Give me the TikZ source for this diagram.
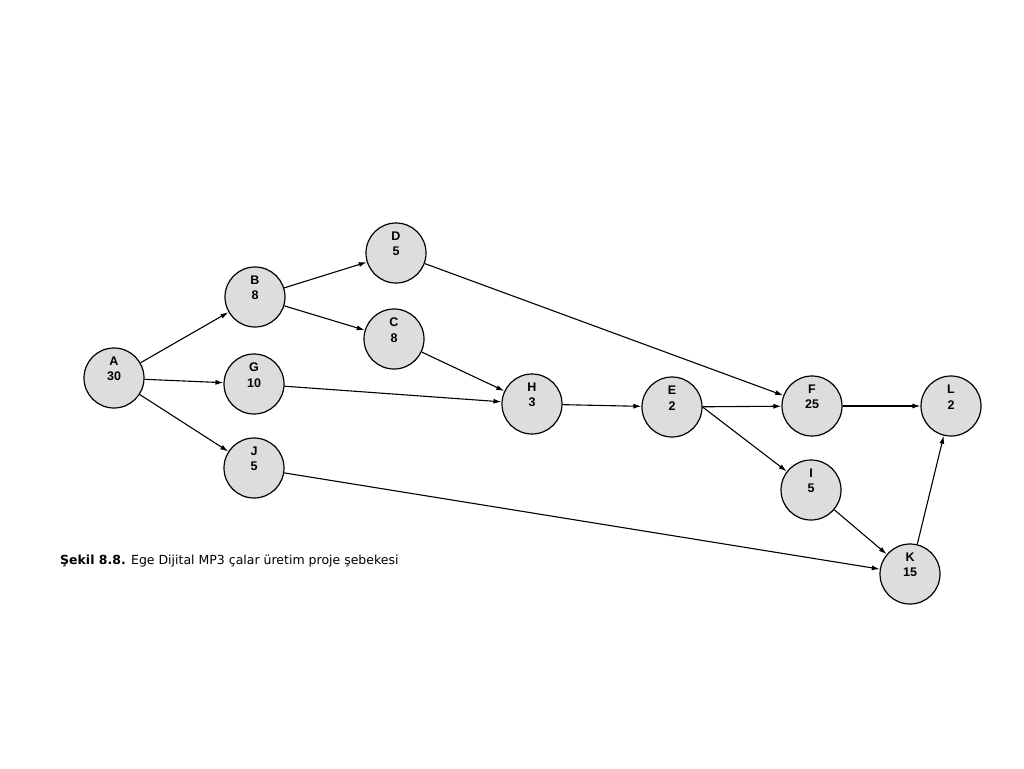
\documentclass[tikz,border=0pt]{standalone}
\usepackage{fontspec}
\setmainfont{Liberation Sans}
\newfontfamily\capfont{DejaVu Sans}
\usetikzlibrary{arrows.meta,positioning}

\tikzset{
  act/.style={circle, draw=black, line width=1.2pt, fill=gray!27, minimum size=60pt, inner sep=0pt},
  lbl/.style={align=center, font=\bfseries\fontsize{12.5}{15.5}\selectfont, yshift=9pt},
  dep/.style={line width=1.1pt, -{Latex[length=8pt,width=5pt]}}
}

\begin{document}
\begin{tikzpicture}[x=1pt, y=-1pt]
\useasboundingbox (0,0) rectangle (1024,768);
% attivita' (nome/x/y/durata)
\foreach \n/\xi/\yi/\d in {A/114/378/30, B/255/297/8, D/396/253/5, C/394/339/8,
  G/254/384/10, J/254/468/5, H/532/404/3, E/672/407/2, F/812/406/25,
  L/951/406/2, I/811/490/5, K/910/574/15}{
  \node[act, label={[lbl]center:{\n\\\d}}] (\n) at (\xi,\yi) {};
}
% precedenze
\foreach \a/\b in {A/B, A/G, A/J, B/D, B/C, D/F, C/H, G/H, H/E, E/F,
  F/L, I/K, J/K, K/L}{
  \draw[dep] (\a) -- (\b);
}
\draw[dep] (E.east) -- (I);
% didascalia
\node[anchor=base west, inner sep=0pt, font=\capfont\fontsize{12.5}{15}\selectfont] (cap) at (60,564)
  {\textbf{Şekil 8.8.} Ege Dijital MP3 çalar üretim proje şebekesi};
\end{tikzpicture}
\end{document}
